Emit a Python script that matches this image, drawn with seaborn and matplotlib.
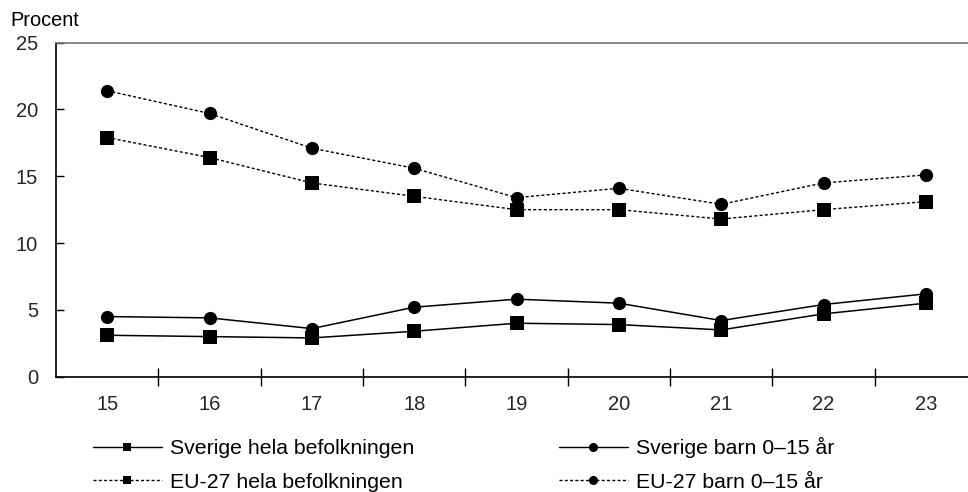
import matplotlib
matplotlib.use("Agg")
import matplotlib.pyplot as plt
from matplotlib.lines import Line2D
import seaborn as sns
import pandas as pd

# Data (percent)
years = [15, 16, 17, 18, 19, 20, 21, 22, 23]
year_labels = ["15", "16", "17", "18", "19", "20", "21", "22", "23"]
sverige_hela = [3.1, 3.0, 2.9, 3.4, 4.0, 3.9, 3.5, 4.7, 5.5]
sverige_barn = [4.5, 4.4, 3.6, 5.2, 5.8, 5.5, 4.2, 5.4, 6.2]
eu_hela = [17.9, 16.4, 14.5, 13.5, 12.5, 12.5, 11.8, 12.5, 13.1]
eu_barn = [21.4, 19.7, 17.1, 15.6, 13.4, 14.1, 12.9, 14.5, 15.1]

series_names = ["Sverige hela befolkningen", "EU-27 hela befolkningen",
                "Sverige barn 0\u201315 år", "EU-27 barn 0\u201315 år"]

sns.set_theme(style="white")
plt.rcParams["font.family"] = ["Liberation Sans", "DejaVu Sans"]
plt.rcParams["text.color"] = "black"

fig = plt.figure(figsize=(9.68, 4.92), dpi=100)
ax = fig.add_axes([0.0579, 0.2344, 0.9514, 0.6789])

styles = {
    series_names[0]: dict(values=sverige_hela, marker="s", ms=10, dash=None),
    series_names[1]: dict(values=eu_hela, marker="s", ms=10, dash=(2.2, 1.6)),
    series_names[2]: dict(values=sverige_barn, marker="o", ms=9.5, dash=None),
    series_names[3]: dict(values=eu_barn, marker="o", ms=9.5, dash=(2.2, 1.6)),
}

for name, st in styles.items():
    df = pd.DataFrame({"år": years, "procent": st["values"]})
    line_kw = dict(color="black", lw=1.0 if st["dash"] else 1.1,
                   marker=st["marker"], markersize=st["ms"],
                   markeredgewidth=0, markerfacecolor="black")
    sns.lineplot(data=df, x="år", y="procent", ax=ax, legend=False, **line_kw)
    if st["dash"]:
        ax.lines[-1].set_dashes(st["dash"])

ax.set_xlim(14.5, 23.5)
ax.set_ylim(0, 25)
ax.set_yticks([0, 5, 10, 15, 20, 25])
ax.set_yticklabels(["0", "5", "10", "15", "20", "25"], fontsize=14.5)
ax.tick_params(axis="y", direction="in", length=6, width=1, color="black",
               pad=13, left=True)

# Tick marks between categories, labels at category centers
ax.set_xticks([y + 0.5 for y in years[:-1]])
ax.set_xticklabels([])
ax.tick_params(axis="x", which="major", direction="inout", length=13,
               width=1, color="black", bottom=True)
ax.set_xticks(years, minor=True)
ax.set_xticklabels(year_labels, minor=True, fontsize=14.5)
ax.tick_params(axis="x", which="minor", length=0, pad=13)

ax.set_xlabel("")
ax.set_ylabel("")
ax.grid(False)

for side in ["left", "bottom"]:
    ax.spines[side].set_color("black")
    ax.spines[side].set_linewidth(1.2)
ax.spines["top"].set_color("#777777")
ax.spines["top"].set_linewidth(1.2)
ax.spines["right"].set_visible(False)

fig.text(0.0103, 0.947, "Procent", fontsize=14.4, ha="left", va="baseline")

handles = []
for name in series_names:
    st = styles[name]
    h = Line2D([0], [0], color="black", lw=1.0,
               ls=(0, (2.2, 1.6)) if st["dash"] else "-",
               marker=st["marker"], markersize=6 if st["marker"] == "s" else 6.5,
               markeredgewidth=0, markerfacecolor="black")
    handles.append(h)

fig.legend(handles, series_names, ncol=2, loc="upper left",
           bbox_to_anchor=(0.096, 0.112), frameon=False, fontsize=15.3,
           handlelength=3.25, handletextpad=0.38, columnspacing=6.8,
           labelspacing=0.7, borderaxespad=0, borderpad=0)

fig.savefig("out.png", dpi=100)
